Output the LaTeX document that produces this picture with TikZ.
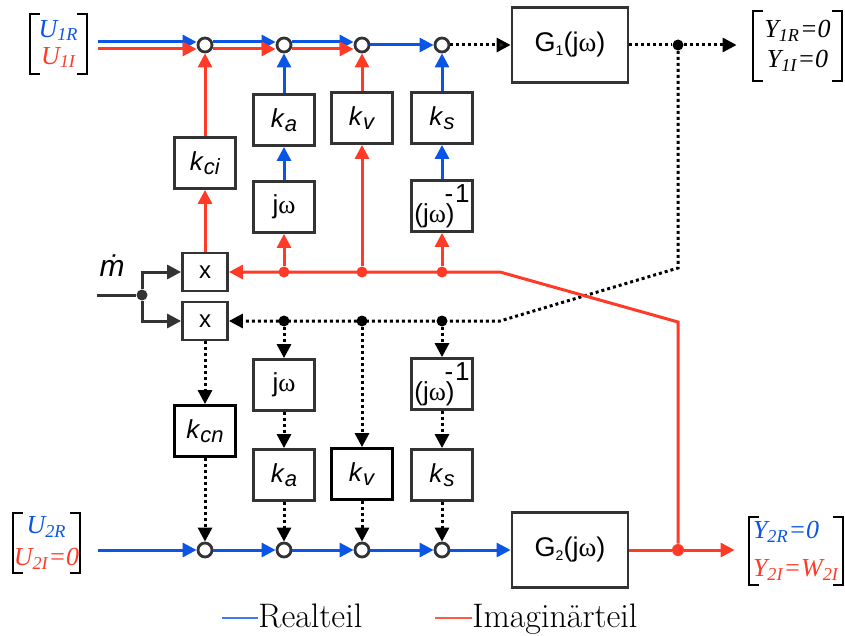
\documentclass[tikz,border=0pt]{standalone}
\usepackage{fontspec}
\usetikzlibrary{arrows.meta,positioning}
\newfontfamily\sfb{Liberation Sans}
\newfontfamily\tms{Liberation Serif}
\definecolor{ReBlue}{HTML}{0A55E6}
\definecolor{ImRed}{HTML}{FF3B28}
\definecolor{LegBlue}{HTML}{3C7CF0}
\definecolor{LegRed}{HTML}{FF5A48}
\definecolor{BoxGray}{HTML}{333333}
\definecolor{TipOlive}{HTML}{2B2B10}

\newcommand\jomega{j{\tms ω}}
\newcommand\kgain[1]{\textit{k}\raisebox{-2.2pt}{\fontsize{11}{13}\selectfont\textit{#1}}}
\newcommand\jwinv{(\jomega)\raisebox{10pt}{\kern-5pt-\kern1pt1}}
\newcommand\vecbrk[1]{%
  \draw[brk] ([xshift=5pt]#1.north west) -| (#1.south west) -- ++(5pt,0)
             ([xshift=-5pt]#1.north east) -| (#1.south east) -- ++(-5pt,0);}

\tikzset{
  blk/.style={draw=BoxGray,line width=1.4pt,fill=white,inner sep=0pt,
    minimum width=30.5pt,minimum height=25.5pt,font=\sfb\fontsize{13}{15}\selectfont},
  mulbox/.style={blk,minimum width=22.5pt,minimum height=19pt,
    font=\sfb\fontsize{12}{14}\selectfont},
  gbox/.style={blk,minimum width=58pt,minimum height=37.5pt,font=\sfb\fontsize{13.5}{16}\selectfont},
  sumpt/.style={circle,draw=BoxGray,line width=1.4pt,fill=white,minimum size=7pt,inner sep=0pt},
  junc/.style={circle,fill=#1,minimum size=5.5pt,inner sep=0pt},
  vec/.style={inner sep=0pt,align=center,font=\tms\itshape\fontsize{13}{15}\selectfont},
  brk/.style={line width=1pt,black},
  tip/.style={-{Triangle[length=7pt,width=7pt]}},
  re/.style={tip,line width=1.5pt,ReBlue},
  im/.style={tip,line width=1.5pt,ImRed},
  dotln/.style={line width=1.5pt,black,dash pattern=on 1.5pt off 1.5pt},
  nul/.style={dotln,tip},
  ctl/.style={line width=1.5pt,BoxGray},
  legtxt/.style={anchor=base west,inner sep=0pt,font=\fontsize{17}{20}\selectfont},
}

\begin{document}
\begin{tikzpicture}[x=0.5pt,y=-0.5pt]
  \useasboundingbox (0,0) rectangle (845,636);

  % input and output vectors
  \node[vec,minimum width=28.5pt,minimum height=30pt] (u1) at (58.5,44)
    {\color{ReBlue}U\textsubscript{1R}\\[-1.5pt]\color{ImRed}U\textsubscript{1I}};
  \node[vec,minimum width=44.5pt,minimum height=35pt] (y1) at (797.5,46)
    {Y\textsubscript{1R}=0\\Y\textsubscript{1I}=0};
  \node[vec,minimum width=33.5pt,minimum height=30pt] (u2) at (46.5,543)
    {\color{ReBlue}U\textsubscript{2R}\\[1pt]\color{ImRed}U\textsubscript{2I}=0};
  \node[vec,align=left,minimum width=47pt,minimum height=34pt] (y2) at (796,551)
    {\color{ReBlue}Y\textsubscript{2R}=0\\[4pt]\color{ImRed}Y\textsubscript{2I}=W\textsubscript{2I}};
  \vecbrk{u1} \vecbrk{y1} \vecbrk{u2} \vecbrk{y2}
  \coordinate (u1out) at ([xshift=5.5pt]u1.east);
  \coordinate (u2out) at ([xshift=9pt]u2.east);

  % summing points
  \node[sumpt] (s1) at (205,45) {};
  \node[sumpt] (s2) at (284,45) {};
  \node[sumpt] (s3) at (362,45) {};
  \node[sumpt] (s4) at (442,45) {};
  \node[sumpt] (t1) at (205,550) {};
  \node[sumpt] (t2) at (284,550) {};
  \node[sumpt] (t3) at (362,550) {};
  \node[sumpt] (t4) at (442,550) {};

  % plants
  \node[gbox] (g1) at (570,45) {G\raisebox{-2pt}{\fontsize{7}{8}\selectfont 1}(\jomega)};
  \node[gbox] (g2) at (570,550) {G\raisebox{-2pt}{\fontsize{7}{8}\selectfont 2}(\jomega)};

  % upper (imaginary input) branch
  \node[blk] (kci) at (205,163) {\kgain{ci}};
  \node[blk] (ka1) at (284,120) {\kgain{a}};
  \node[blk] (kv1) at (362,118) {\kgain{v}};
  \node[blk] (ks1) at (442,118) {\kgain{s}};
  \node[blk] (jw1) at (284,207) {\jomega};
  \node[blk] (jwi1) at (442,206) {\jwinv};

  % multipliers
  \node[mulbox] (m1) at (205,272) {x};
  \node[mulbox] (m2) at (205,321) {x};

  % lower (real input) branch
  \node[blk] (jw2) at (284,385) {\jomega};
  \node[blk] (jwi2) at (442,384) {\jwinv};
  \node[blk,draw=black] (kcn) at (205,431) {\kgain{cn}};
  \node[blk] (ka2) at (284,475) {\kgain{a}};
  \node[blk,draw=black] (kv2) at (362,474) {\kgain{v}};
  \node[blk] (ks2) at (442,475) {\kgain{s}};

  % m dot
  \node[font=\sfb\itshape\fontsize{15}{17}\selectfont] (mdot) at (112,266) {ṁ};
  \coordinate (min) at (97,295);
  \node[junc=BoxGray] (mj) at (142,295) {};

  % branch points
  \node[junc=ImRed] (ri1) at (284,272) {};
  \node[junc=ImRed] (ri2) at (362,272) {};
  \node[junc=ImRed] (ri3) at (442,272) {};
  \node[junc=black] (bi1) at (284,321) {};
  \node[junc=black] (bi2) at (362,321) {};
  \node[junc=black] (bi3) at (442,321) {};
  \node[junc=black] (oj1) at (678,45) {};
  \node[junc=ImRed,minimum size=6pt] (oj2) at (678,550) {};
  \coordinate (rb1) at (678,322);
  \coordinate (rb2) at (500,272);
  \coordinate (bb1) at (678,268);
  \coordinate (bb2) at (500,321);

  % top row
  \draw[re] ([yshift=1.5pt]u1out |- s1) -- ([yshift=1.5pt]s1.west);
  \draw[im] ([yshift=-2pt]u1out |- s1) -- ([yshift=-2pt]s1.west);
  \draw[re] ([yshift=1.5pt]s1.east) -- ([yshift=1.5pt]s2.west);
  \draw[im] ([yshift=-2pt]s1.east) -- ([yshift=-2pt]s2.west);
  \draw[re] ([yshift=1.5pt]s2.east) -- ([yshift=1.5pt]s3.west);
  \draw[im] ([yshift=-2pt]s2.east) -- ([yshift=-2pt]s3.west);
  \draw[re] (s3) -- (s4);
  \draw[dotln,-{Triangle[length=7pt,width=7pt,fill=TipOlive]}] (s4) -- (g1);
  \draw[dotln] (g1) -- (oj1);
  \draw[nul] (oj1) -- ([xshift=-8pt]y1.west |- oj1);

  % imaginary feedback
  \draw[im] (m1) -- (kci);
  \draw[im] (kci) -- (s1);
  \draw[im] (ri1) -- (jw1);
  \draw[re] (jw1) -- (ka1);
  \draw[re] (ka1) -- (s2);
  \draw[im] (ri2) -- (kv1);
  \draw[im] (kv1) -- (s3);
  \draw[im] (ri3) -- (jwi1);
  \draw[re] (jwi1) -- (ks1);
  \draw[re] (ks1) -- (s4);

  % m dot to multipliers
  \draw[ctl] (min) -- (mj);
  \draw[ctl,tip] (mj) |- (m1);
  \draw[ctl,tip] (mj) |- (m2);

  % real feedback
  \draw[nul] (oj1) -- (bb1) -- (bb2) -- (m2);
  \draw[nul] (m2) -- (kcn);
  \draw[nul] (kcn) -- (t1);
  \draw[nul] (bi1) -- (jw2);
  \draw[nul] (jw2) -- (ka2);
  \draw[nul] (ka2) -- (t2);
  \draw[nul] (bi2) -- (kv2);
  \draw[nul] (kv2) -- (t3);
  \draw[nul] (bi3) -- (jwi2);
  \draw[nul] (jwi2) -- (ks2);
  \draw[nul] (ks2) -- (t4);

  % bottom row
  \draw[re] (u2out |- t1) -- (t1);
  \draw[re] (t1) -- (t2);
  \draw[re] (t2) -- (t3);
  \draw[re] (t3) -- (t4);
  \draw[re] (t4) -- (g2);
  \draw[im,-] (g2) -- (oj2);
  \draw[im] (oj2) -- ([xshift=-7pt]y2.west |- oj2);
  \draw[im] (oj2) -- (rb1) -- (rb2) -- (m1);

  % legend
  \node[legtxt] (lgre) at (258,627) {Realteil};
  \node[legtxt] (lgim) at (472,627) {Imaginärteil};
  \draw[LegBlue,line width=0.8pt] ([yshift=4.5pt]lgre.base west) -- ++(-36,0);
  \draw[LegRed,line width=0.8pt] ([yshift=4.5pt]lgim.base west) -- ++(-37,0);
\end{tikzpicture}
\end{document}
